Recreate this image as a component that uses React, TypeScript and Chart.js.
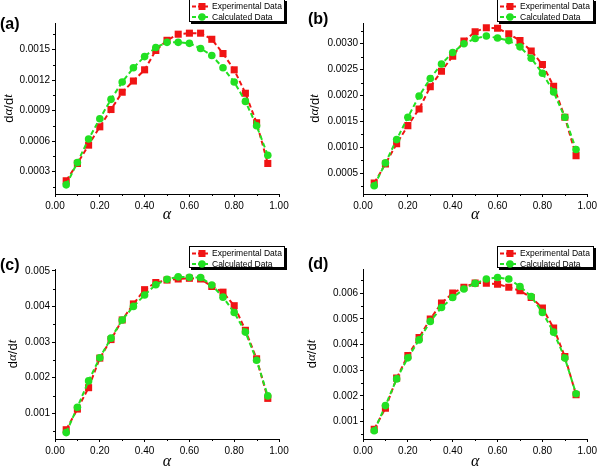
import React, { useEffect, useRef } from "react";
import { Chart, registerables } from "chart.js";

Chart.register(...registerables);

// ---------- data ----------
const ALPHA = [0.05, 0.1, 0.15, 0.2, 0.25, 0.3, 0.35, 0.4, 0.45, 0.5, 0.55, 0.6, 0.65, 0.7, 0.75, 0.8, 0.85, 0.9, 0.95];

const EXP_A = [0.00021, 0.00038, 0.00056, 0.00074, 0.00091, 0.00108, 0.00119, 0.0013, 0.00149, 0.00159, 0.00165, 0.00166, 0.00166, 0.0016, 0.00146, 0.0013, 0.00107, 0.00078, 0.00038];
const CALC_A = [0.00017, 0.00039, 0.00062, 0.00082, 0.00101, 0.00118, 0.00132, 0.00143, 0.00152, 0.00157, 0.00157, 0.00156, 0.00151, 0.00144, 0.00132, 0.00118, 0.00099, 0.00075, 0.00046];

const EXP_B = [0.00031, 0.00068, 0.00107, 0.00142, 0.00174, 0.00217, 0.00247, 0.00276, 0.00305, 0.00323, 0.00331, 0.0033, 0.00319, 0.00306, 0.00286, 0.0026, 0.00218, 0.00158, 0.00084];
const CALC_B = [0.00026, 0.0007, 0.00115, 0.00158, 0.00199, 0.00233, 0.00261, 0.00283, 0.003, 0.0031, 0.00315, 0.00311, 0.00306, 0.00294, 0.00272, 0.00243, 0.00207, 0.00158, 0.00096];

const EXP_C = [0.00054, 0.00112, 0.00172, 0.00255, 0.00307, 0.00362, 0.00407, 0.00447, 0.00467, 0.00474, 0.00477, 0.00479, 0.00477, 0.00456, 0.0044, 0.00402, 0.00333, 0.00253, 0.00142];
const CALC_C = [0.00046, 0.00117, 0.00191, 0.00256, 0.00311, 0.00362, 0.004, 0.00432, 0.00461, 0.00476, 0.00483, 0.00482, 0.00481, 0.0046, 0.00426, 0.00383, 0.00328, 0.00249, 0.00149];

const EXP_D = [0.0007, 0.00152, 0.00269, 0.00357, 0.00427, 0.00499, 0.00561, 0.006, 0.00623, 0.00639, 0.00639, 0.00635, 0.00623, 0.00609, 0.00583, 0.00542, 0.00464, 0.00353, 0.00204];
const CALC_D = [0.00064, 0.00162, 0.00266, 0.00348, 0.00418, 0.0049, 0.00544, 0.00583, 0.00616, 0.00638, 0.00655, 0.00661, 0.00655, 0.00626, 0.00587, 0.00525, 0.00448, 0.00347, 0.00208];

const X_TICKS = [0, 0.2, 0.4, 0.6, 0.8, 1.0];
const X_MINOR = [0.1, 0.3, 0.5, 0.7, 0.9];

const Y_TICKS_A = [0.0003, 0.0006, 0.0009, 0.0012, 0.0015];
const Y_MINOR_A = [0.00015, 0.00045, 0.00075, 0.00105, 0.00135, 0.00165];
const Y_TICKS_B = [0.0005, 0.001, 0.0015, 0.002, 0.0025, 0.003];
const Y_MINOR_B = [0.00025, 0.00075, 0.00125, 0.00175, 0.00225, 0.00275, 0.00325];
const Y_TICKS_C = [0.001, 0.002, 0.003, 0.004, 0.005];
const Y_MINOR_C = [0.0005, 0.0015, 0.0025, 0.0035, 0.0045];
const Y_TICKS_D = [0.001, 0.002, 0.003, 0.004, 0.005, 0.006];
const Y_MINOR_D = [0.0005, 0.0015, 0.0025, 0.0035, 0.0045, 0.0055, 0.0065];

const PANEL_LABELS = ["(a)", "(b)", "(c)", "(d)"];
const SERIES_LABELS = ["Experimental Data", "Calculated Data"];
// y title pieces: [text, italic]
const Y_TITLE_PARTS: [string, boolean][] = [["d", false], ["α", true], ["/d", false], ["t", true]];
const X_TITLE = "α";

const RED = "#f01414";
const GREEN = "#22e022";
const SANS = '"Liberation Sans", Arial, sans-serif';
const SERIF = '"Liberation Serif", "Times New Roman", serif';

// ---------- plugins ----------
const minorTicksPlugin = {
  id: "minorTicks",
  afterDraw(chart: any, _args: any, opts: any) {
    const ctx = chart.ctx;
    const xs = chart.scales.x;
    const ys = chart.scales.y;
    const area = chart.chartArea;
    ctx.save();
    ctx.strokeStyle = "#000";
    ctx.lineWidth = 1;
    ctx.beginPath();
    (opts.x || []).forEach((v: number) => {
      const px = Math.round(xs.getPixelForValue(v)) + 0.5;
      ctx.moveTo(px, area.bottom);
      ctx.lineTo(px, area.bottom + 2);
    });
    (opts.y || []).forEach((v: number) => {
      if (v < ys.min || v > ys.max) return;
      const py = Math.round(ys.getPixelForValue(v)) + 0.5;
      ctx.moveTo(area.left, py);
      ctx.lineTo(area.left - 2, py);
    });
    ctx.stroke();
    ctx.restore();
  },
};

const boxLegendPlugin = {
  id: "boxLegend",
  afterDraw(chart: any, _args: any, opts: any) {
    const ctx = chart.ctx;
    const { x, y, w, h, label, lx, ly, tx } = opts;
    const area = chart.chartArea;
    ctx.save();
    // shadow + box
    ctx.fillStyle = "#000";
    ctx.fillRect(x + 2, y + 2, w, h);
    ctx.fillStyle = "#fff";
    ctx.fillRect(x, y, w, h);
    ctx.strokeStyle = "#000";
    ctx.lineWidth = 1;
    ctx.strokeRect(x + 0.5, y + 0.5, w - 1, h - 1);
    chart.data.datasets.forEach((ds: any, i: number) => {
      const cy = y + 7.5 + i * 10.5;
      ctx.setLineDash([4, 2]);
      ctx.strokeStyle = ds.borderColor;
      ctx.lineWidth = 2;
      ctx.beginPath();
      ctx.moveTo(x + 3, cy);
      ctx.lineTo(x + 21, cy);
      ctx.stroke();
      ctx.setLineDash([]);
      ctx.fillStyle = ds.pointBackgroundColor;
      if (ds.pointStyle === "rect") {
        ctx.fillRect(x + 13 - 3.5, cy - 3.5, 7, 7);
      } else {
        ctx.beginPath();
        ctx.arc(x + 13, cy, 3.7, 0, Math.PI * 2);
        ctx.fill();
      }
      ctx.fillStyle = "#000";
      ctx.font = `8.5px ${SANS}`;
      ctx.textBaseline = "middle";
      ctx.textAlign = "left";
      ctx.fillText(ds.label, x + 23, cy + 0.5);
    });
    // panel label
    ctx.font = `bold 16px ${SANS}`;
    ctx.fillStyle = "#000";
    ctx.textBaseline = "middle";
    ctx.textAlign = "left";
    ctx.fillText(label, lx, ly);
    // y axis title with italic symbols
    const fontOf = (it: boolean) => (it ? `italic 13px ${SERIF}` : `13px ${SANS}`);
    let total = 0;
    Y_TITLE_PARTS.forEach(([t, it]) => {
      ctx.font = fontOf(it);
      total += ctx.measureText(t).width;
    });
    ctx.translate(tx, (area.top + area.bottom) / 2);
    ctx.rotate(-Math.PI / 2);
    let cx = -total / 2;
    Y_TITLE_PARTS.forEach(([t, it]) => {
      ctx.font = fontOf(it);
      ctx.fillText(t, cx, 0);
      cx += ctx.measureText(t).width;
    });
    ctx.restore();
  },
};

type Panel = {
  exp: number[];
  calc: number[];
  yTicks: number[];
  yMinor: number[];
  yMin: number;
  yMax: number;
  decimals: number;
  left: number;
  top: number;
  yWidth: number;
  padTop: number;
  padRight: number;
  xHeight: number;
  xTitlePad: number;
  tx: number;
  legend: { x: number; y: number; w: number; h: number };
  label: string;
  lx: number;
  ly: number;
};

// legend / label coordinates are local to each panel canvas
const PANELS: Panel[] = [
  {
    exp: EXP_A, calc: CALC_A, yTicks: Y_TICKS_A, yMinor: Y_MINOR_A, yMin: 0.00008, yMax: 0.00176, decimals: 4,
    left: 0, top: 0, yWidth: 55, padTop: 23, padRight: 21, xHeight: 41, xTitlePad: 12, tx: 9,
    legend: { x: 189, y: -1, w: 96, h: 23 }, label: PANEL_LABELS[0], lx: 0, ly: 25,
  },
  {
    exp: EXP_B, calc: CALC_B, yTicks: Y_TICKS_B, yMinor: Y_MINOR_B, yMin: 0.0001, yMax: 0.0034, decimals: 4,
    left: 300, top: 0, yWidth: 63, padTop: 23, padRight: 12, xHeight: 41, xTitlePad: 12, tx: 15,
    legend: { x: 197, y: -1, w: 97, h: 23 }, label: PANEL_LABELS[1], lx: 8, ly: 20,
  },
  {
    exp: EXP_C, calc: CALC_C, yTicks: Y_TICKS_C, yMinor: Y_MINOR_C, yMin: 0.00028, yMax: 0.00505, decimals: 3,
    left: 0, top: 235, yWidth: 55, padTop: 34, padRight: 21, xHeight: 31, xTitlePad: 0, tx: 13,
    legend: { x: 189, y: 11, w: 96, h: 22 }, label: PANEL_LABELS[2], lx: 0, ly: 31,
  },
  {
    exp: EXP_D, calc: CALC_D, yTicks: Y_TICKS_D, yMinor: Y_MINOR_D, yMin: 0.00032, yMax: 0.00694, decimals: 3,
    left: 300, top: 235, yWidth: 63, padTop: 34, padRight: 12, xHeight: 31, xTitlePad: 0, tx: 12,
    legend: { x: 197, y: 11, w: 97, h: 22 }, label: PANEL_LABELS[3], lx: 8, ly: 30,
  },
];

function makeConfig(p: Panel): any {
  const tickFont = { family: SANS, size: 10 };
  return {
    type: "line",
    data: {
      datasets: [
        {
          label: SERIES_LABELS[0],
          data: ALPHA.map((x, i) => ({ x, y: p.exp[i] })),
          borderColor: RED,
          backgroundColor: RED,
          pointBackgroundColor: RED,
          pointBorderColor: RED,
          pointBorderWidth: 0,
          pointStyle: "rect",
          pointRadius: 5,
          borderDash: [5, 3],
          borderWidth: 2,
          tension: 0,
          order: 2,
        },
        {
          label: SERIES_LABELS[1],
          data: ALPHA.map((x, i) => ({ x, y: p.calc[i] })),
          borderColor: GREEN,
          backgroundColor: GREEN,
          pointBackgroundColor: GREEN,
          pointBorderColor: GREEN,
          pointBorderWidth: 0,
          pointStyle: "circle",
          pointRadius: 3.8,
          borderDash: [5, 3],
          borderWidth: 2,
          tension: 0,
          order: 1,
        },
      ],
    },
    options: {
      animation: false,
      responsive: false,
      events: [],
      layout: { padding: { left: 0, right: p.padRight, top: p.padTop, bottom: 0 } },
      plugins: {
        legend: { display: false },
        tooltip: { enabled: false },
        minorTicks: { x: X_MINOR, y: p.yMinor },
        boxLegend: {
          x: p.legend.x,
          y: p.legend.y,
          w: p.legend.w,
          h: p.legend.h,
          label: p.label,
          lx: p.lx,
          ly: p.ly,
          tx: p.tx,
        },
      },
      scales: {
        x: {
          type: "linear",
          min: 0,
          max: 1,
          afterBuildTicks: (s: any) => {
            s.ticks = X_TICKS.map((v) => ({ value: v }));
          },
          afterFit: (s: any) => {
            s.height = p.xHeight;
          },
          ticks: {
            callback: (v: number) => v.toFixed(2),
            font: tickFont,
            color: "#000",
            padding: 3,
            maxRotation: 0,
            autoSkip: false,
          },
          grid: { display: true, drawOnChartArea: false, drawTicks: true, tickLength: 3, color: "#000", tickWidth: 1 },
          border: { display: true, color: "#000", width: 1 },
          title: {
            display: true,
            text: X_TITLE,
            font: { family: SERIF, size: 16, style: "italic", lineHeight: 1 },
            color: "#000",
            padding: { top: 0, bottom: p.xTitlePad },
          },
        },
        y: {
          type: "linear",
          min: p.yMin,
          max: p.yMax,
          afterBuildTicks: (s: any) => {
            s.ticks = p.yTicks.map((v) => ({ value: v }));
          },
          afterFit: (s: any) => {
            s.width = p.yWidth;
          },
          ticks: {
            callback: (v: number) => v.toFixed(p.decimals),
            font: tickFont,
            color: "#000",
            padding: 2,
            autoSkip: false,
          },
          grid: { display: true, drawOnChartArea: false, drawTicks: true, tickLength: 3, color: "#000", tickWidth: 1 },
          border: { display: true, color: "#000", width: 1 },
          title: { display: false },
        },
      },
    },
    plugins: [minorTicksPlugin, boxLegendPlugin],
  };
}

function PanelChart({ panel }: { panel: Panel }) {
  const ref = useRef<HTMLCanvasElement | null>(null);
  useEffect(() => {
    if (!ref.current) return;
    const chart = new Chart(ref.current, makeConfig(panel));
    return () => chart.destroy();
  }, [panel]);
  return (
    <div style={{ position: "absolute", left: panel.left, top: panel.top, width: 300, height: 235 }}>
      <canvas ref={ref} width={300} height={235} style={{ width: 300, height: 235, display: "block" }} />
    </div>
  );
}

export default function App() {
  return (
    <div style={{ position: "fixed", left: 0, top: 0, width: 600, height: 470, background: "#fff" }}>
      {PANELS.map((p, i) => (
        <PanelChart key={i} panel={p} />
      ))}
    </div>
  );
}
